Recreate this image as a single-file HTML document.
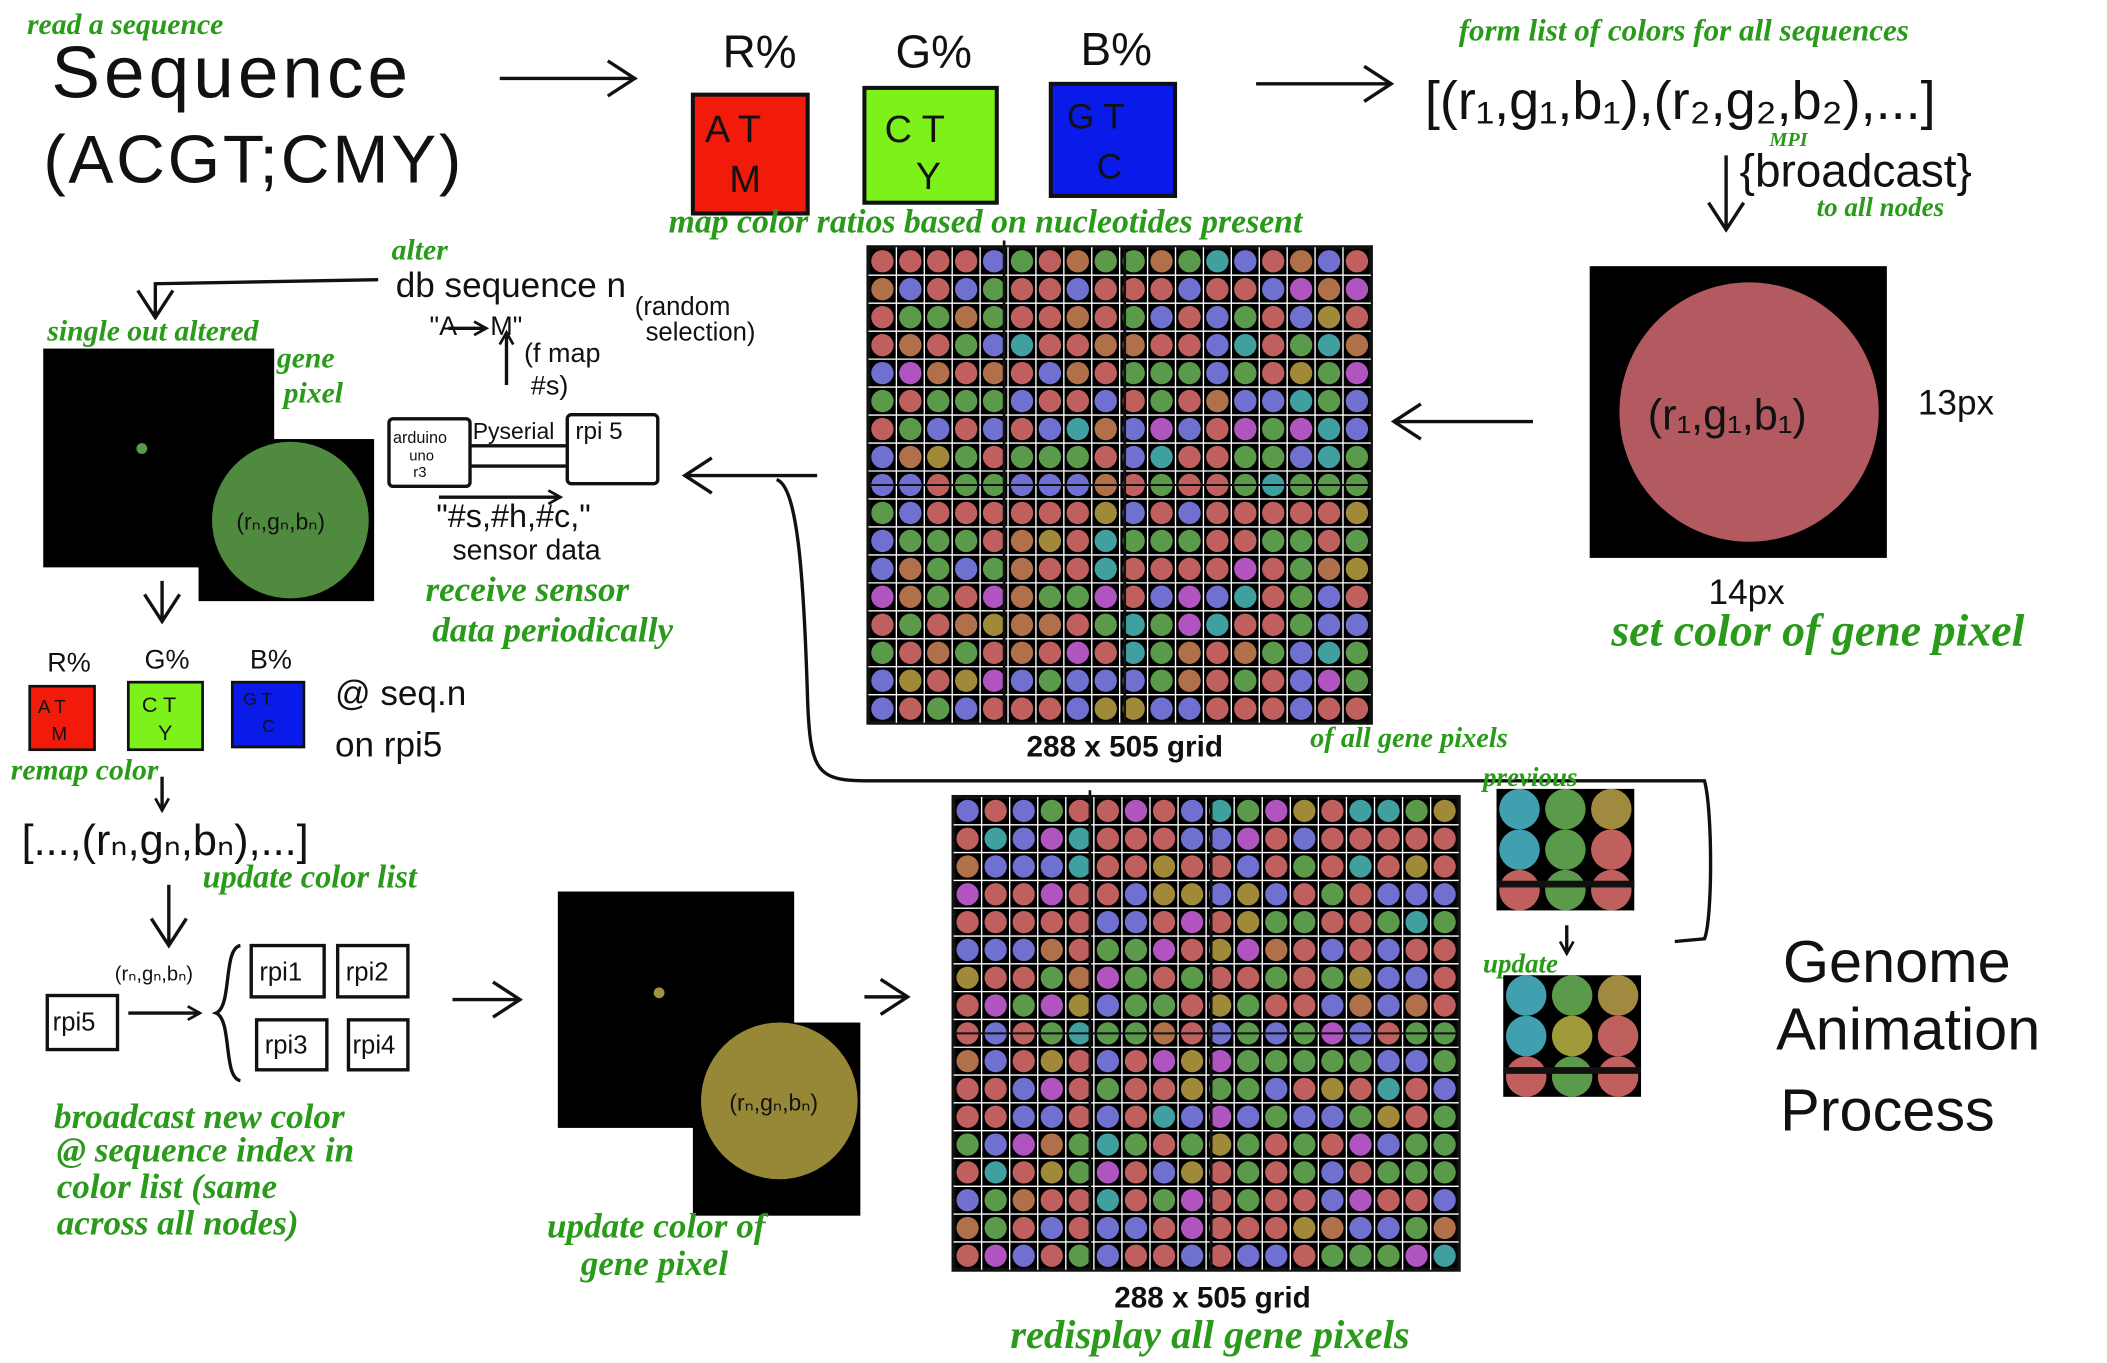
<!DOCTYPE html>
<html><head><meta charset="utf-8"><style>
html,body{margin:0;padding:0;background:#fff;}
svg{display:block}
.k{font-family:"Liberation Sans",sans-serif;fill:#111}
.g{font-family:"Liberation Serif",serif;font-style:italic;font-weight:bold;fill:#2a9a1a}
</style></head><body>
<svg id="s" width="2107" height="1363" viewBox="0 0 1560 1009" xmlns="http://www.w3.org/2000/svg">
<defs><marker id="a" markerWidth="12" markerHeight="12" refX="10" refY="6" orient="auto" markerUnits="userSpaceOnUse"><path d="M1,1 L10,6 L1,11" fill="none" stroke="#111" stroke-width="2"/></marker>
<marker id="b" markerWidth="24" markerHeight="30" refX="22" refY="15" orient="auto" markerUnits="userSpaceOnUse"><path d="M2,2 L22,15 L2,28" fill="none" stroke="#111" stroke-width="2.5"/></marker></defs>
<g stroke="#111" stroke-width="2.5" fill="none">
<line x1="370" y1="58" x2="470" y2="58" marker-end="url(#b)"/>
<line x1="930" y1="62" x2="1030" y2="62" marker-end="url(#b)"/>
<line x1="1278" y1="115" x2="1278" y2="170" marker-end="url(#b)"/>
<line x1="1135" y1="312" x2="1032" y2="312" marker-end="url(#b)"/>
<line x1="605" y1="352" x2="507" y2="352" marker-end="url(#b)"/>
<path d="M575,355 C590,360 595,420 598,520 C600,570 605,578 640,578 L1262,578 C1268,600 1268,680 1262,695 L1240,697"/>
<path d="M280,207 L115,210 L115,235" marker-end="url(#b)"/>
<line x1="375" y1="285" x2="375" y2="246" marker-end="url(#a)"/>
<line x1="120" y1="430" x2="120" y2="460" marker-end="url(#b)"/>
<line x1="120" y1="575" x2="120" y2="600" marker-end="url(#a)"/>
<line x1="125" y1="655" x2="125" y2="700" marker-end="url(#b)"/>
<line x1="95" y1="750" x2="148" y2="750" marker-end="url(#a)"/>
<line x1="335" y1="740" x2="385" y2="740" marker-end="url(#b)"/>
<line x1="640" y1="738" x2="672" y2="738" marker-end="url(#b)"/>
<line x1="1160" y1="685" x2="1160" y2="706" marker-end="url(#a)"/>
<line x1="332" y1="243" x2="360" y2="243" marker-end="url(#a)"/>
<line x1="325" y1="368" x2="415" y2="368" marker-end="url(#a)"/>
<path d="M348,330 L420,330 M348,345 L420,345"/>
<rect x="288" y="310" width="60" height="50" rx="3"/>
<rect x="420" y="307" width="67" height="51" rx="3"/>
<rect x="35" y="737" width="52" height="40"/>
<rect x="186" y="700" width="54" height="38"/>
<rect x="250" y="700" width="52" height="38"/>
<rect x="190" y="755" width="52" height="37"/>
<rect x="258" y="755" width="44" height="37"/>
<path d="M178,700 C165,702 172,745 160,750 C172,755 165,798 178,800"/>
</g>
<text class="g" x="20" y="25" font-size="22">read a sequence</text>
<text class="k" x="38" y="72" font-size="54" letter-spacing="3">Sequence</text>
<text class="k" x="32" y="135" font-size="50" letter-spacing="2">(ACGT;CMY)</text>
<text class="k" x="535" y="50" font-size="34">R%</text>
<text class="k" x="663" y="50" font-size="34">G%</text>
<text class="k" x="800" y="48" font-size="34">B%</text>
<rect x="513" y="70" width="85" height="88" fill="#f21a0a" stroke="#111" stroke-width="3"/>
<rect x="640" y="65" width="98" height="85" fill="#7df21a" stroke="#111" stroke-width="3"/>
<rect x="778" y="62" width="92" height="83" fill="#0a1ae8" stroke="#111" stroke-width="3"/>
<text class="k" x="522" y="105" font-size="28">A T</text><text class="k" x="540" y="142" font-size="28">M</text>
<text class="k" x="655" y="105" font-size="28">C T</text><text class="k" x="678" y="140" font-size="28">Y</text>
<text class="k" x="790" y="95" font-size="26">G T</text><text class="k" x="812" y="132" font-size="26">C</text>
<text class="g" x="495" y="172" font-size="25">map color ratios based on nucleotides present</text>
<text class="g" x="1080" y="30" font-size="23">form list of colors for all sequences</text>
<text class="k" x="1055" y="88" font-size="40">[(r₁,g₁,b₁),(r₂,g₂,b₂),...]</text>
<text class="g" x="1310" y="108" font-size="15">MPI</text>
<text class="k" x="1288" y="138" font-size="34">{broadcast}</text>
<text class="g" x="1345" y="160" font-size="20">to all nodes</text>
<rect x="1177" y="197" width="220" height="216" fill="#000"/>
<circle cx="1295" cy="305" r="96" fill="#b25a60"/>
<text class="k" x="1220" y="318" font-size="32">(r₁,g₁,b₁)</text>
<text class="k" x="1420" y="307" font-size="26">13px</text>
<text class="k" x="1265" y="447" font-size="26">14px</text>
<text class="g" x="1193" y="478" font-size="34">set color of gene pixel</text>
<text class="g" x="290" y="192" font-size="22">alter</text>
<text class="k" x="293" y="220" font-size="26">db sequence n</text>
<text class="k" x="470" y="233" font-size="19">(random</text>
<text class="k" x="478" y="252" font-size="19">selection)</text>
<text class="k" x="318" y="248" font-size="20">"A</text><text class="k" x="363" y="248" font-size="20">M"</text>
<text class="k" x="388" y="268" font-size="20">(f map</text><text class="k" x="393" y="292" font-size="20">#s)</text>
<text class="k" x="291" y="328" font-size="12">arduino</text><text class="k" x="303" y="341" font-size="11">uno</text><text class="k" x="306" y="353" font-size="11">r3</text>
<text class="k" x="350" y="325" font-size="17">Pyserial</text>
<text class="k" x="426" y="325" font-size="18">rpi 5</text>
<text class="k" x="323" y="390" font-size="24">"#s,#h,#c,"</text>
<text class="k" x="335" y="414" font-size="21">sensor data</text>
<text class="g" x="315" y="445" font-size="26">receive sensor</text>
<text class="g" x="320" y="475" font-size="26">data periodically</text>
<text class="g" x="35" y="252" font-size="22">single out altered</text>
<text class="g" x="205" y="272" font-size="22">gene</text>
<text class="g" x="210" y="298" font-size="22">pixel</text>
<rect x="32" y="258" width="171" height="162" fill="#000"/>
<circle cx="105" cy="332" r="4" fill="#5a9a4a"/>
<rect x="147" y="325" width="130" height="120" fill="#000"/>
<circle cx="215" cy="385" r="58" fill="#4f8a3f"/>
<text class="k" x="175" y="392" font-size="17">(rₙ,gₙ,bₙ)</text>
<text class="k" x="35" y="497" font-size="20">R%</text><text class="k" x="107" y="495" font-size="20">G%</text><text class="k" x="185" y="495" font-size="20">B%</text>
<rect x="22" y="508" width="48" height="47" fill="#f21a0a" stroke="#111" stroke-width="2"/>
<rect x="95" y="505" width="55" height="50" fill="#7df21a" stroke="#111" stroke-width="2"/>
<rect x="172" y="505" width="53" height="48" fill="#0a1ae8" stroke="#111" stroke-width="2"/>
<text class="k" x="28" y="528" font-size="14">A T</text><text class="k" x="38" y="548" font-size="14">M</text>
<text class="k" x="105" y="527" font-size="16">C T</text><text class="k" x="117" y="548" font-size="16">Y</text>
<text class="k" x="180" y="522" font-size="13">G T</text><text class="k" x="194" y="542" font-size="13">C</text>
<text class="k" x="248" y="522" font-size="26">@ seq.n</text>
<text class="k" x="248" y="560" font-size="26">on rpi5</text>
<text class="g" x="8" y="577" font-size="22">remap color</text>
<text class="k" x="16" y="633" font-size="32">[...,(rₙ,gₙ,bₙ),...]</text>
<text class="g" x="150" y="657" font-size="24">update color list</text>
<text class="k" x="85" y="726" font-size="15">(rₙ,gₙ,bₙ)</text>
<text class="k" x="39" y="763" font-size="19">rpi5</text>
<text class="k" x="192" y="726" font-size="19">rpi1</text><text class="k" x="256" y="726" font-size="19">rpi2</text>
<text class="k" x="196" y="780" font-size="19">rpi3</text><text class="k" x="261" y="780" font-size="19">rpi4</text>
<text class="g" x="40" y="835" font-size="26">broadcast new color</text>
<text class="g" x="42" y="860" font-size="26">@ sequence index in</text>
<text class="g" x="42" y="887" font-size="26">color list (same</text>
<text class="g" x="42" y="914" font-size="26">across all nodes)</text>
<rect x="413" y="660" width="175" height="175" fill="#000"/>
<circle cx="488" cy="735" r="4" fill="#a09040"/>
<rect x="513" y="757" width="124" height="143" fill="#000"/>
<circle cx="577" cy="815" r="58" fill="#978838"/>
<text class="k" x="540" y="822" font-size="17">(rₙ,gₙ,bₙ)</text>
<text class="g" x="405" y="916" font-size="26">update color of</text>
<text class="g" x="430" y="944" font-size="26">gene pixel</text>
<text class="k" x="760" y="560" font-size="22" font-weight="bold">288 x 505 grid</text>
<text class="g" x="970" y="553" font-size="21">of all gene pixels</text>
<text class="k" x="825" y="968" font-size="22" font-weight="bold">288 x 505 grid</text>
<text class="g" x="748" y="998" font-size="30">redisplay all gene pixels</text>
<text class="g" x="1098" y="582" font-size="20">previous</text>
<text class="g" x="1098" y="720" font-size="20">update</text>
<text class="k" x="1320" y="727" font-size="44">Genome</text>
<text class="k" x="1315" y="777" font-size="44">Animation</text>
<text class="k" x="1318" y="837" font-size="44">Process</text>
<g id="grids"></g>
</svg>
<script>
var NS="http://www.w3.org/2000/svg",G=document.getElementById("grids");
function el(t,a){var e=document.createElementNS(NS,t);for(var k in a)e.setAttribute(k,a[k]);G.appendChild(e);return e;}
var seed=7;function r(){seed=(seed*16807)%2147483647;return seed/2147483647;}
var cols=["#c0605e","#c0605e","#c0605e","#c0605e","#c0605e","#c0605e","#5a9a4a","#5a9a4a","#5a9a4a","#5a9a4a","#7070d0","#7070d0","#7070d0","#b055c0","#a08a3a","#b0704a","#40a0a0"];
function grid(x,y,w,h,nc,nr){el("rect",{x:x,y:y,width:w,height:h,fill:"#000",stroke:"#111","stroke-width":3});
var cw=w/nc,ch=h/nr;
for(var i=1;i<nc;i++)el("line",{x1:x+i*cw,y1:y,x2:x+i*cw,y2:y+h,stroke:"#fff","stroke-width":1});
for(var j=1;j<nr;j++)el("line",{x1:x,y1:y+j*ch,x2:x+w,y2:y+j*ch,stroke:"#fff","stroke-width":1});
for(var i=0;i<nc;i++)for(var j=0;j<nr;j++)el("circle",{cx:x+(i+.5)*cw,cy:y+(j+.5)*ch,r:Math.min(cw,ch)*0.4,fill:cols[Math.floor(r()*cols.length)]});
el("line",{x1:x+w*0.27,y1:y-5,x2:x+w*0.27,y2:y+h,stroke:"#111","stroke-width":2});
el("line",{x1:x+w*0.51,y1:y,x2:x+w*0.51,y2:y+h,stroke:"#111","stroke-width":2});
el("line",{x1:x,y1:y+h*0.5,x2:x+w,y2:y+h*0.5,stroke:"#111","stroke-width":1.5});}
grid(643,183,372,352,18,17);
grid(706,590,374,350,18,17);
function small(x,y,c){var w=34,h=30;el("rect",{x:x,y:y,width:w*3,height:h*3,fill:"#000"});
for(var j=0;j<3;j++)for(var i=0;i<3;i++)el("circle",{cx:x+(i+.5)*w,cy:y+(j+.5)*h,r:15,fill:c[j*3+i]});
el("rect",{x:x,y:y+h*2+8,width:w*3,height:5,fill:"#111"});}
small(1108,584,["#40a0b0","#5a9a4a","#a08a40","#40a0b0","#5a9a4a","#c0605e","#c0605e","#5a9a4a","#c0605e"]);
small(1113,722,["#40a0b0","#5a9a4a","#a08a40","#40a0b0","#a09a3a","#c0605e","#c0605e","#5a9a4a","#c0605e"]);
</script>
</body></html>
